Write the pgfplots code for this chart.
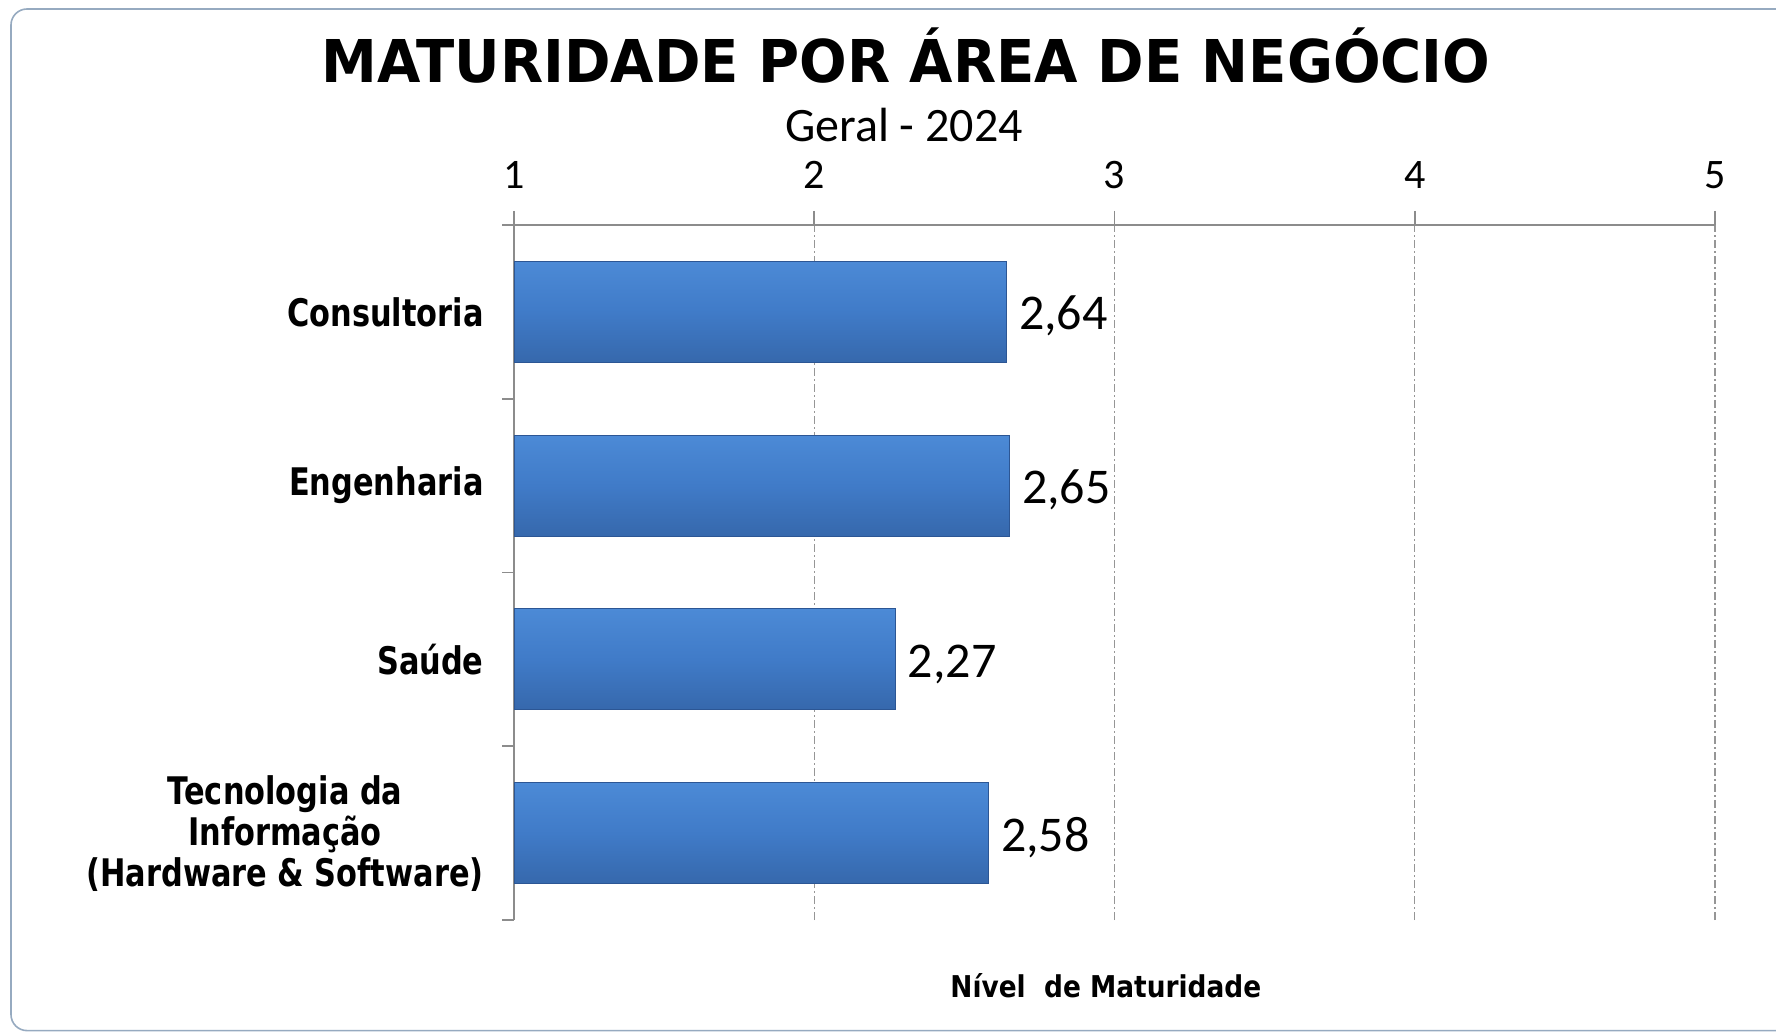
\documentclass[border=0pt]{standalone}
\usepackage{fontspec}
\usepackage{pgfplots}
\usepackage{pgfplotstable}
\pgfplotsset{compat=1.18}
\setmainfont{Carlito}
\newfontfamily\tahT[FakeStretch=0.95]{DejaVu Sans}
\newfontfamily\tahC[FakeStretch=0.80]{DejaVu Sans}
\newfontfamily\tahN[FakeStretch=0.88]{DejaVu Sans}
\definecolor{framec}{RGB}{150,170,192}
\definecolor{axisgray}{RGB}{140,140,140}
\definecolor{gridgray}{RGB}{150,150,150}
\definecolor{bartop}{RGB}{76,138,214}
\definecolor{barmid}{RGB}{64,123,200}
\definecolor{barbot}{RGB}{54,104,172}
\definecolor{baredge}{RGB}{44,86,148}
\pgfplotstableread{
y x label
3 2.64 2,64
}\tabA
\pgfplotstableread{
y x label
2 2.65 2,65
}\tabB
\pgfplotstableread{
y x label
1 2.27 2,27
}\tabC
\pgfplotstableread{
y x label
0 2.58 2,58
}\tabD
\begin{document}
\begin{tikzpicture}
\path[use as bounding box] (0pt,0pt) rectangle (888pt,516.5pt);
\begin{scope}
\clip (0pt,0pt) rectangle (888pt,516.5pt);
\draw[framec, line width=0.8pt, rounded corners=8pt, fill=white] (5.5pt,512pt) rectangle (905pt,1.2pt);
\end{scope}
\node[anchor=base, inner sep=0pt, font=\tahT\bfseries\fontsize{29.5}{30}\selectfont] at (453pt,475pt) {MATURIDADE POR ÁREA DE NEGÓCIO};
\node[anchor=base, inner sep=0pt, font=\fontsize{24}{26}\selectfont] at (452pt,445.8pt) {Geral - 2024};
\node[anchor=base west, inner sep=0pt, font=\tahN\bfseries\fontsize{15}{16}\selectfont] at (475pt,18pt) {Nível\ \ de Maturidade};
\begin{axis}[
  at={(257pt,56.5pt)}, anchor=south west,
  scale only axis, width=600.5pt, height=347.5pt,
  xmin=1, xmax=5, ymin=-0.5, ymax=3.5,
  axis x line=top, axis y line=left,
  axis line style={-, draw=axisgray, line width=0.8pt},
  xtick={1,2,3,4,5},
  xmajorgrids,
  major grid style={gridgray, line width=0.6pt, dash pattern=on 4pt off 1.5pt on 1pt off 1.5pt},
  tick align=outside,
  major tick length=7pt, minor tick length=6pt,
  tick style={axisgray, line width=0.8pt},
  ytick={0,1,2,3},
  yticklabels={{Tecnologia da\\Informação\\(Hardware \& Software)}, Saúde, Engenharia, Consultoria},
  major y tick style={draw=none},
  minor ytick={-0.5,0.5,1.5,2.5,3.5},
  yticklabel style={font=\tahC\bfseries\fontsize{19}{20.5}\selectfont, align=center, anchor=east, inner sep=0pt, xshift=-8pt},
  xticklabel style={font=\fontsize{21}{22}\selectfont, anchor=south, inner sep=0pt, yshift=11pt},
  /pgf/number format/assume math mode=true,
  xbar, bar width=50.5pt, bar shift=0pt,
  nodes near coords, point meta=explicit symbolic,
  every node near coord/.append style={font=\fontsize{25}{26}\selectfont, anchor=base west, inner sep=0pt, xshift=6pt, yshift=-9pt, text=black},
  barstyle/.style={top color=bartop, bottom color=barbot, middle color=barmid, draw=baredge, line width=0.6pt},
]
\addplot[barstyle] table[x=x, y=y, meta=label] {\tabA};
\addplot[barstyle] table[x=x, y=y, meta=label] {\tabB};
\addplot[barstyle] table[x=x, y=y, meta=label] {\tabC};
\addplot[barstyle] table[x=x, y=y, meta=label] {\tabD};
\end{axis}
\end{tikzpicture}
\end{document}
